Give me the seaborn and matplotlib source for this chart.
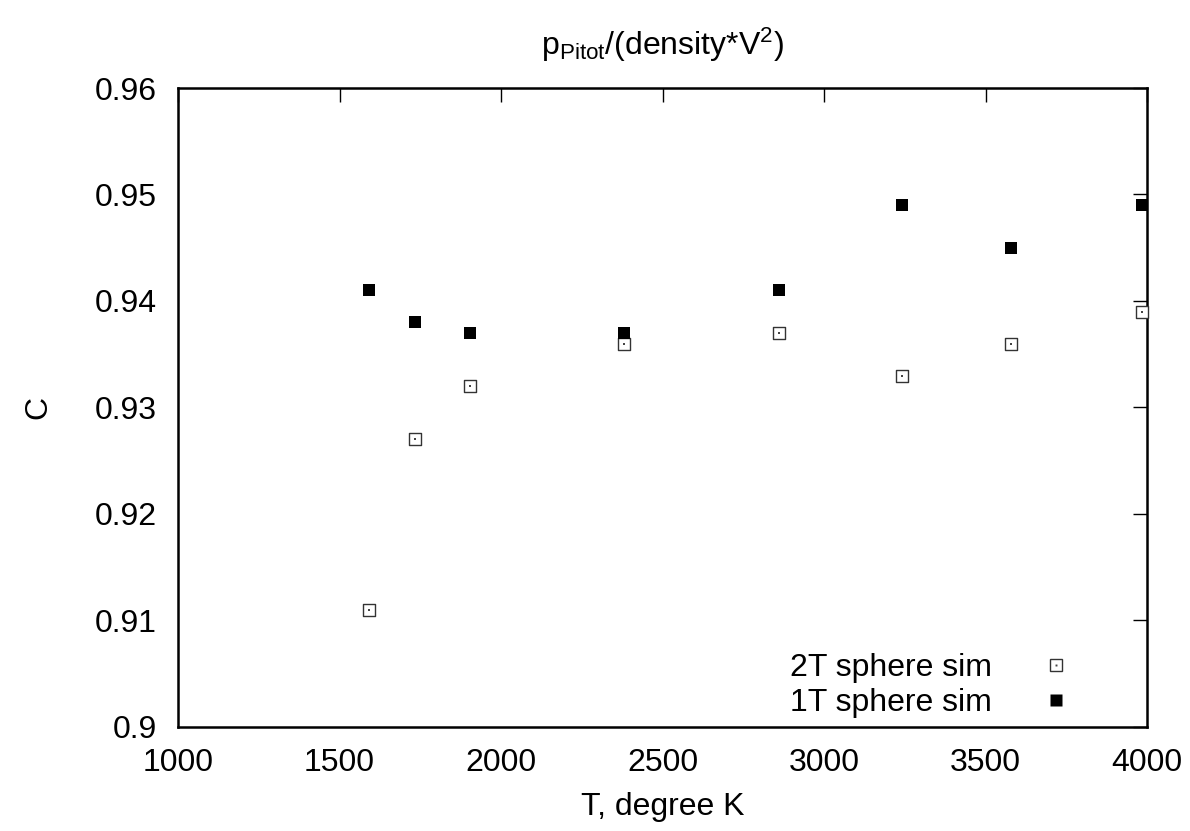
import matplotlib
matplotlib.use('Agg')
import matplotlib.pyplot as plt
import seaborn as sns
import pandas as pd

# temperatures and C values
T = [1590, 1735, 1905, 2380, 2860, 3240, 3580, 3985]
c_2T = [0.911, 0.927, 0.932, 0.936, 0.937, 0.933, 0.936, 0.939]
c_1T = [0.941, 0.938, 0.937, 0.937, 0.941, 0.949, 0.945, 0.949]
series_names = ['2T sphere sim', '1T sphere sim']
x_ticks = [1000, 1500, 2000, 2500, 3000, 3500, 4000]
y_ticks = [0.9, 0.91, 0.92, 0.93, 0.94, 0.95, 0.96]
y_tick_labels = ['0.9', '0.91', '0.92', '0.93', '0.94', '0.95', '0.96']

df = pd.DataFrame({'T': T, '2T': c_2T, '1T': c_1T})

sns.set_style('white')
plt.rcParams['font.family'] = ['Liberation Sans', 'DejaVu Sans']
plt.rcParams['mathtext.default'] = 'regular'
plt.rcParams['text.color'] = 'black'
plt.rcParams['axes.labelcolor'] = 'black'

fig = plt.figure(figsize=(11.9, 8.31), dpi=100)
ax = fig.add_axes([0.1496, 0.1252, 0.8143, 0.7689])

sns.scatterplot(data=df, x='T', y='2T', ax=ax, marker='s', s=70,
                facecolor='white', edgecolor='#333333', linewidth=1.0,
                clip_on=False, zorder=3)
sns.scatterplot(data=df, x='T', y='2T', ax=ax, marker='s', s=2,
                color='#444444', linewidth=0, clip_on=False, zorder=4)
sns.scatterplot(data=df, x='T', y='1T', ax=ax, marker='s', s=70,
                color='black', linewidth=0, clip_on=False, zorder=3)

h_open = plt.Line2D([], [], ls='none', marker='s', ms=8.4, mfc='white',
                    mec='#333333', mew=1.0)
h_dot = plt.Line2D([], [], ls='none', marker='s', ms=1.4, mfc='#444444',
                   mec='none')
h_fill = plt.Line2D([], [], ls='none', marker='s', ms=8.4, mfc='black',
                    mec='none')
leg = ax.legend([(h_open, h_dot), h_fill], series_names, loc='lower right',
                bbox_to_anchor=(0.9556, -0.011), frameon=False,
                markerfirst=False, fontsize=23, handlelength=2.0,
                handletextpad=1.0, labelspacing=0.15, borderaxespad=0,
                borderpad=0.5)
for t in leg.get_texts():
    t.set_ha('right')
    t.set_color('black')

ax.set_xlim(1000, 4000)
ax.set_ylim(0.9, 0.96)
ax.set_xticks(x_ticks)
ax.set_yticks(y_ticks)
ax.set_yticklabels(y_tick_labels)
ax.tick_params(direction='in', length=10, width=1, top=True, right=True,
               labelsize=23, colors='black')
ax.tick_params(axis='x', pad=15)
ax.tick_params(axis='y', pad=15)
for sp in ax.spines.values():
    sp.set_linewidth(1.8)
    sp.set_color('black')

ax.set_xlabel('T, degree K', fontsize=23, labelpad=10)
ax.set_ylabel('C', fontsize=23, labelpad=30)
ax.set_title(r'$p_{Pitot}/(density{*}V^{2})$', fontsize=23, pad=24,
             color='black')

fig.savefig('out.png', dpi=100)
